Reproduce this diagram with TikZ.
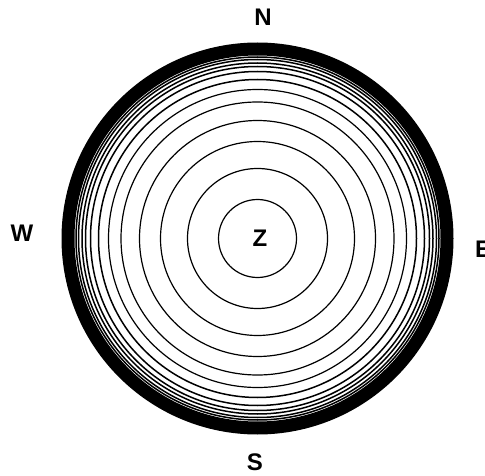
\documentclass[tikz,border=0pt]{standalone}
\usepackage{fontspec}
\setmainfont{Liberation Sans}
\begin{document}
\begin{tikzpicture}[x=1pt,y=-1pt,
  ring/.style={draw=black,line width=1.2pt},
  ringthick/.style={draw=black,line width=1.5pt},
  band/.style={draw=black,line width=13pt},
  dir/.style={font=\fontsize{24}{24}\selectfont\bfseries,inner sep=0pt,text=black}]
\useasboundingbox[fill=white] (0,0) rectangle (485,476);
\coordinate (c) at (257.5,238.5);
\foreach \r in {39,70,97,118,136.5,149}{
  \draw[ring] (c) circle[radius=\r pt];
}
\foreach \r in {159,167,172,175.5,179,181.5}{
  \draw[ringthick] (c) circle[radius=\r pt];
}
\draw[band] (c) circle[radius=189.5pt];
\node[dir] (N) at (263,17) {N};
\node[dir] (S) at (255,462) {S};
\node[dir] (W) at (22,233) {W};
\node[dir] (E) at (483,249) {E};
\node[dir] (Z) at (260,238) {Z};
\end{tikzpicture}
\end{document}
